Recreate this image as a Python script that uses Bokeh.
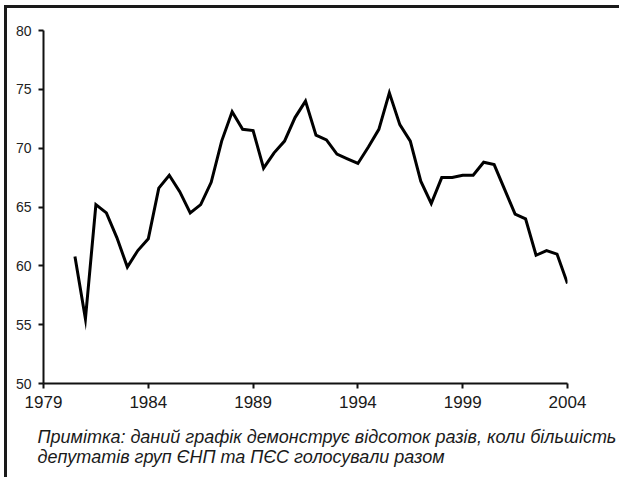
from bokeh.plotting import figure
from bokeh.models import Range1d, FixedTicker, Title
from bokeh.embed import file_html
from bokeh.resources import INLINE

# Half-year periods and share of votes (%) where EPP and PES majorities voted together
periods = [1980.5, 1981.0, 1981.5, 1982.0, 1982.5, 1983.0, 1983.5, 1984.0,
           1984.5, 1985.0, 1985.5, 1986.0, 1986.5, 1987.0, 1987.5, 1988.0,
           1988.5, 1989.0, 1989.5, 1990.0, 1990.5, 1991.0, 1991.5, 1992.0,
           1992.5, 1993.0, 1993.5, 1994.0, 1994.5, 1995.0, 1995.5, 1996.0,
           1996.5, 1997.0, 1997.5, 1998.0, 1998.5, 1999.0, 1999.5, 2000.0,
           2000.5, 2001.0, 2001.5, 2002.0, 2002.5, 2003.0, 2003.5, 2004.0]
share = [60.8, 55.5, 65.2, 64.5, 62.4, 59.9, 61.3, 62.3,
         66.6, 67.7, 66.3, 64.5, 65.2, 67.1, 70.6, 73.1,
         71.6, 71.5, 68.3, 69.6, 70.6, 72.6, 74.0, 71.1,
         70.7, 69.5, 69.1, 68.7, 70.1, 71.6, 74.7, 72.0,
         70.6, 67.2, 65.3, 67.5, 67.5, 67.7, 67.7, 68.8,
         68.6, 66.5, 64.4, 64.0, 60.9, 61.3, 61.0, 58.5]

x_ticks = [1979, 1984, 1989, 1994, 1999, 2004]
y_ticks = [50, 55, 60, 65, 70, 75, 80]

note_lines = ["Примітка: даний графік демонструє відсоток разів, коли більшість",
              "депутатів груп ЄНП та ПЄС голосували разом"]

p = figure(width=615, height=472, output_backend="svg", toolbar_location=None,
           x_range=Range1d(1979, 2004), y_range=Range1d(50, 80),
           min_border_left=36, min_border_right=55, min_border_top=22,
           min_border_bottom=96)
p.styles = {"border-left": "3px solid #1a1a1a", "border-top": "3px solid #1a1a1a",
            "margin-left": "4px", "margin-top": "5px"}
p.outline_line_color = None
p.xgrid.grid_line_color = None
p.ygrid.grid_line_color = None
p.background_fill_color = "white"
p.border_fill_color = "white"

p.line(periods, share, line_color="black", line_width=3, line_join="miter")

p.xaxis.ticker = FixedTicker(ticks=x_ticks)
p.xaxis.minor_tick_line_color = None
p.xaxis.major_tick_in = 0
p.xaxis.major_tick_out = 5
p.xaxis.axis_line_width = 2
p.xaxis.major_tick_line_width = 2
p.xaxis.axis_line_color = "#111111"
p.xaxis.major_tick_line_color = "#111111"
p.xaxis.major_label_text_font = "Liberation Sans"
p.xaxis.major_label_text_font_size = "17px"
p.xaxis.major_label_text_color = "#1a1a1a"
p.xaxis.major_label_standoff = 7

p.yaxis.ticker = FixedTicker(ticks=y_ticks)
p.yaxis.minor_tick_line_color = None
p.yaxis.major_tick_in = 0
p.yaxis.major_tick_out = 5
p.yaxis.axis_line_width = 2
p.yaxis.major_tick_line_width = 2
p.yaxis.axis_line_color = "#111111"
p.yaxis.major_tick_line_color = "#111111"
p.yaxis.major_label_text_font = "Liberation Sans"
p.yaxis.major_label_text_font_size = "14px"
p.yaxis.major_label_text_color = "#222222"
p.yaxis.major_label_standoff = 7

p.add_layout(Title(text="\n".join(note_lines), align="left", offset=-6, standoff=28,
                   text_font="Liberation Sans", text_font_size="18px",
                   text_font_style="italic",
                   text_color="#1a1a1a", text_line_height=1.0), "below")

open("out.html", "w").write(file_html(p, INLINE))
